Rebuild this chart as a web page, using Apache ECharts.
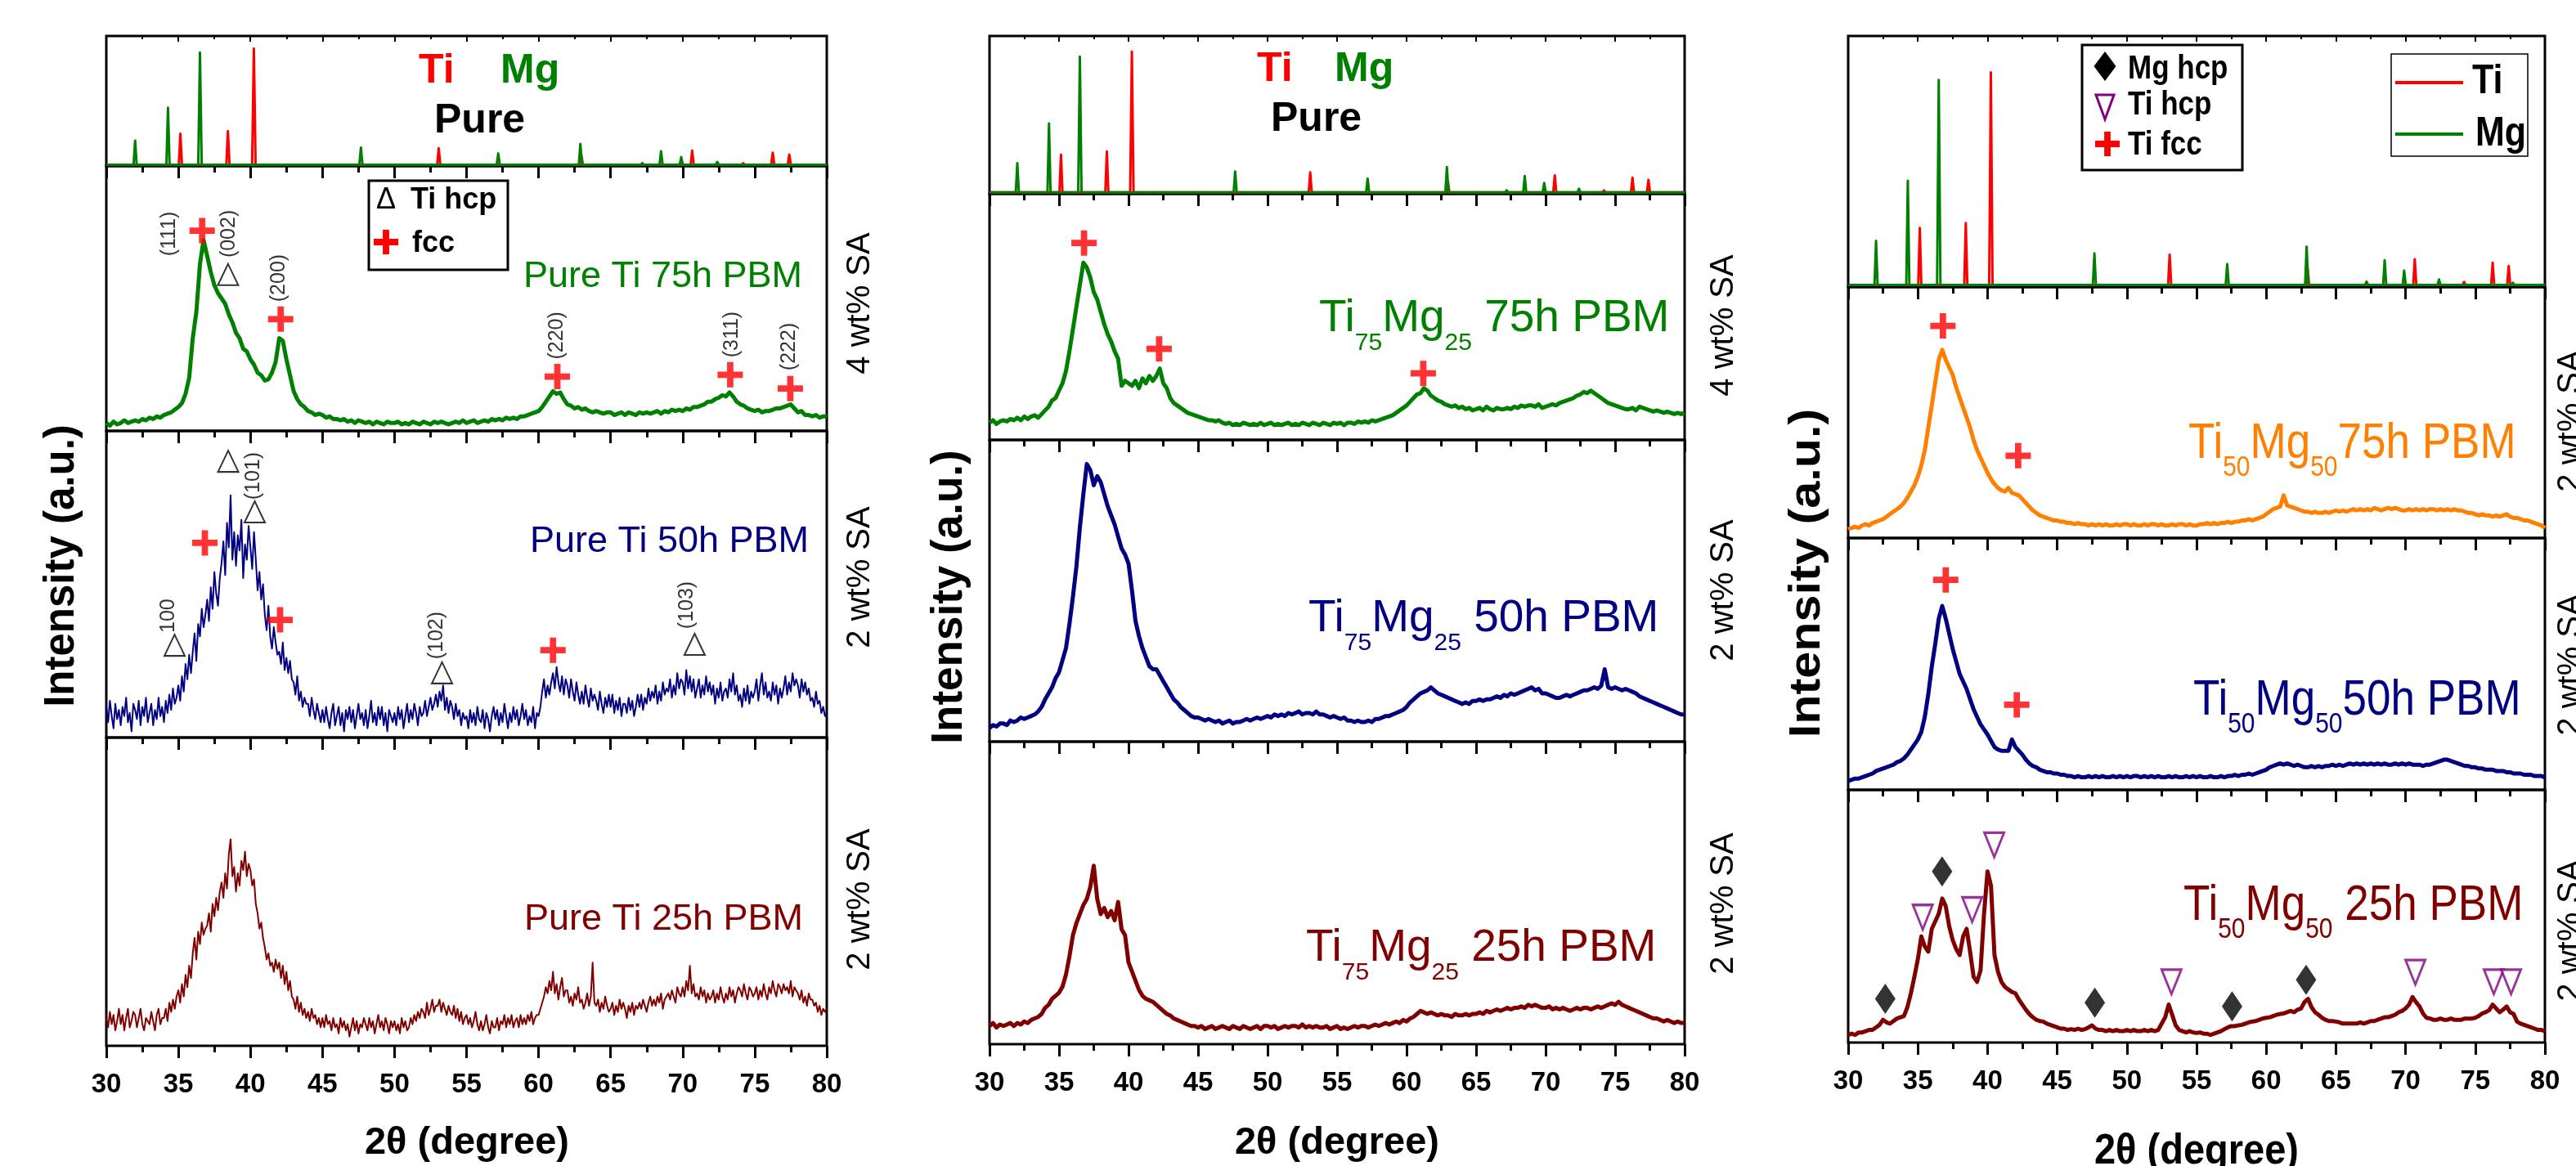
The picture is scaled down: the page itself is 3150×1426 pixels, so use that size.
<!DOCTYPE html>
<html>
<head>
<meta charset="utf-8">
<script src="https://cdn.jsdelivr.net/npm/echarts@6/dist/echarts.min.js"></script>
<style>
html,body{margin:0;padding:0;background:#fff;}
#chart{width:3150px;height:1426px;}
</style>
</head>
<body>
<div id="chart"></div>
<script>
// ---------------- DATA ----------------
// 2θ sampling: start 30°, step 0.25° (coarse) or 0.125° (fine), up to 80°
const X_START = 30, X_STEP = 0.25, X_STEP_FINE = 0.125;
const xTicks = [30, 35, 40, 45, 50, 55, 60, 65, 70, 75, 80];

// Reference patterns (Pure Ti / Pure Mg), [2θ, intensity]
const refTi = [[30,1],[35.03,1],[35.14,27.5],[35.25,1],[38.33,1],[38.44,29.8],[38.55,1],[40.12,1],[40.24,100],[40.36,1],
  [52.96,1],[53.07,15.1],[53.18,1],[62.86,1],[62.97,9],[63.08,1],[70.55,1],[70.66,13],[70.77,1],[74.09,1],[74.2,2.4],[74.31,1],
  [76.14,1],[76.25,11.3],[76.36,1],[77.29,1],[77.4,9.8],[77.51,1],[80,1]];
const refMg = [[30,1],[31.89,1],[32.0,21.5],[32.11,1],[34.17,1],[34.28,49.5],[34.39,1],[36.38,1],[36.5,96.5],[36.62,1],
  [47.56,1],[47.67,15.7],[47.78,1],[57.09,1],[57.2,10.7],[57.31,1],[62.79,1],[62.9,18.8],[63.01,1],[67.09,1],[67.2,2.5],[67.31,1],
  [68.39,1],[68.5,12.5],[68.61,1],[69.79,1],[69.9,7.6],[70.01,1],[72.29,1],[72.4,3.5],[72.51,1],[77.59,1],[77.7,2],[77.81,1],[80,1]];

// Pure Ti 75h PBM (left, green) – step 0.25
const pureTi75 = [
3,2,3.5,2.5, 3,4,3,3.5, 4,3.5,4.5,4, 5,4.5,5.5,5, 6,6.5,7,8,
9,10.5,14,20, 35,45,63,72, 66,60,55,52, 50,48,44,41, 37,35,31,30,
27,25,22,21, 19,19.5,22,26, 35,34,27,21, 15,12,10,9, 7.5,7,6,6.5,
6,5,5.5,4.5, 4.5,4,4.5,3.5, 4,3,4,3.5, 3,3.5,2.5,3.5, 3,2.5,3.5,3,
3,3.5,2.5,3, 2.5,3.5,3,2.5, 3.5,3,2.5,3.5, 3,3.5,3,2.5, 3,3.5,3,4,
3,3.5,4,3, 3.5,4,3.5,4.5, 4,4.5,4,5, 4.5,5,4.5,5.5, 5.5,6,6.5,7,
7.5,9,11,13, 15,14,14.5,12, 10,9.5,8.5,9, 8,8.5,7.5,7, 7.5,7,6.5,7,
7,6,6.5,7, 6,7,6.5,6, 7,6.5,7,6.5, 7,7.5,6.5,7.5, 7,8,7.5,8,
7.5,8.5,8,9, 9,9.5,10,11, 11,12,12.5,13.5, 13,14.5,13,11, 10,9.5,8.5,8,
7.5,8,7,7.5, 7.5,8,8.5,8.5, 9,9.5,10,8.5, 7,7.5,6,6, 5.5,6,5,5.5,
5.5];
// Pure Ti 50h PBM (left, navy) – step 0.125
const pureTi50 = [
10,5,12,7,3,11,6,9, 4,10,7,13,5,8,2,11, 9,6,12,4,10,7,13,5, 8,11,4,9,6,13,7,10,
5,12,8,14,9,16,11,13, 17,12,20,15,24,19,27,21, 28,34,25,37,33,42,36,40, 45,38,49,42,54,47,43,52,
57,64,53,70,62,79,58,67, 56,66,61,71,52,63,58,69, 62,55,67,58,48,54,45,50, 40,35,43,33,29,36,31,27,
28,24,31,22,26,21,25,19, 18,14,20,12,15,10,13,11, 11,7,13,9,6,11,8,5, 9,5,10,6,3,8,11,4,
7,10,4,8,2,9,6,10, 5,9,3,7,11,6,8,4, 9,3,7,12,5,8,4,10, 6,10,4,8,2,9,7,5,
8,4,10,6,9,3,7,11, 5,9,6,11,8,4,10,7, 8,12,7,10,13,9,11,14, 10,15,12,17,9,13,8,12,
10,6,11,7,9,4,8,6, 7,3,9,5,8,4,10,6, 5,9,3,8,6,2,7,10, 6,9,4,8,5,11,7,3,
8,5,10,6,9,4,7,11, 6,9,4,7,5,10,3,8, 7,10,15,19,13,17,14,18, 21,16,23,18,15,20,14,19,
17,13,19,15,12,18,14,11, 15,11,17,13,10,16,12,14, 12,9,15,11,8,13,10,14, 10,14,8,12,9,13,7,11,
11,8,13,9,12,7,10,14, 10,14,9,13,11,16,12,15, 13,17,11,15,12,18,14,16, 15,19,13,17,14,21,16,19,
18,14,22,16,20,15,19,13, 16,19,13,17,14,20,15,18, 14,17,11,16,13,18,12,15, 16,13,19,15,21,14,17,12,
14,10,16,12,17,11,15,13, 15,19,12,17,21,14,18,13, 15,12,18,14,17,11,16,13, 16,20,14,18,15,21,17,19,
17,13,19,15,18,14,16,12, 13,10,15,11,12,8,10,7,
8];
// Pure Ti 25h PBM (left, dark red) – step 0.125
const pureTi25 = [
9,6,11,7,10,5,8,12, 7,10,5,9,12,6,8,11, 10,6,9,12,7,5,9,8, 7,11,8,5,10,12,7,9,
9,12,8,14,11,15,12,16, 18,14,20,16,23,19,26,22, 30,35,28,37,33,40,36,38, 39,43,37,46,42,48,44,50,
53,48,56,51,62,67,55,58, 50,56,52,60,57,63,55,59, 57,52,54,46,43,38,40,35, 32,28,30,26,27,24,28,25,
27,22,26,20,24,18,21,16, 15,12,16,11,14,10,12,9, 11,8,12,9,10,7,9,6, 9,6,10,7,8,5,9,6,
7,4,9,6,8,5,7,3, 6,9,5,8,4,7,6,9, 7,5,9,6,8,4,7,10, 6,8,5,9,7,4,8,6,
8,5,7,4,9,6,8,5, 6,9,7,10,8,11,9,12, 11,9,14,10,12,15,11,13, 13,15,11,14,12,10,13,11,
10,13,9,12,8,11,7,9, 10,7,9,6,8,11,7,5, 8,5,7,10,6,4,8,6, 6,9,5,8,7,10,6,9,
7,10,6,8,9,6,10,7, 9,7,10,8,11,7,9,10, 10,12,14,16,19,17,21,18, 24,17,20,15,19,22,16,18,
18,14,16,13,17,15,19,14, 15,12,14,17,13,16,27,14, 13,15,11,14,12,16,13,11, 12,14,10,13,11,15,12,14,
12,9,13,11,14,10,13,12, 14,12,15,13,11,14,16,13, 15,13,16,14,17,12,15,16, 17,15,18,16,14,19,17,16,
19,16,21,18,26,17,20,16, 17,15,19,16,18,14,17,15, 16,18,14,17,15,19,16,14, 17,15,19,16,18,14,17,19,
18,16,20,17,15,19,18,16, 17,19,15,18,16,20,17,15, 19,17,21,18,16,20,19,17, 20,18,19,17,21,16,19,18,
17,15,18,14,16,13,17,15, 15,13,14,11,13,10,12,11,
12];
// Ti75Mg25 75h PBM (middle, green) – step 0.25
const ti75mg25_75 = [
7,8,6.5,7.5, 8,7.5,8.5,8, 9,8,9.5,8.5, 9.5,10,9,10.5, 12,13.5,16,17,
20,23,28,36, 45,54,63,72, 70,66,60,57, 52,47,43,40, 36,33,22,24,
23,22,24,21, 25,23,26,24, 26,29,23,21, 17,15,14,13, 12,11,10.5,10,
9.5,9,8.5,8, 8,7.5,8,7, 6.5,7,6,6.5, 6,7,6.5,6, 6.5,6,7,6,
6.5,7,6,6.5, 6,6.5,7,6, 6.5,6,7,6.5, 6,7,6.5,6, 7,6.5,6,7,
6.5,7,6,7, 7,6.5,7.5,7, 7.5,7,8,7.5, 8,8.5,9,9.5, 10,11,12,13,
14,15.5,17,18.5, 19,21,20,18, 17,16,15.5,14.5, 14,13.5,14,13, 13.5,12.5,13,12,
12.5,13,12,13.5, 12.5,12,13,12.5, 12.5,13,12.5,13.5, 13,14,13.5,14, 14,13.5,14.5,13,
13.5,14,14.5,14, 15,15.5,16,16.5, 17,18,18.5,19.5, 19,20,19,18, 17,16,15,14.5,
14,13.5,13,12.5, 12.5,13,12,13.5, 13,12.5,12,11.5, 12,11.5,11,11.5, 11,10.5,11,10.5,
11];
// Ti75Mg25 50h PBM (middle, navy)
const ti75mg25_50 = [
4.5,5.5,5,6, 6,5.5,7,6.5, 7,8,7.5,8, 8.5,9,10,11.5, 14,16,18,21,
23,27,31,39, 48,58,71,82, 92,90,85,88, 86,82,78,75, 72,68,64,62,
59,50,40,35, 31,28,25,24, 24,22,20,18, 16,14,13,11.5, 10.5,9.5,8.5,8,
8,7.5,7,7.5, 7,6.5,7,6, 6.5,7,6,6.5, 6.5,7,7.5,7, 7.5,8,7.5,8,
8.5,8,9,8.5, 9,8.5,9.5,9, 9.5,10,9,9.5, 9.5,9,10,9, 9,8.5,8,8.5,
8,7.5,8,7, 7,6.5,7,6.5, 6.5,7,6.5,7.5, 7.5,8,8.5,8.5, 9,9.5,10,10.5,
11.5,13,14,15, 16,16.5,17,18, 17,16,15.5,15, 14.5,14,13.5,13, 12.5,13,12.5,13.5,
13.5,14,13.5,14, 14,14.5,15,14.5, 15.5,15,16,15.5, 16,16.5,17,17.5, 18,17,17.5,16,
16,15.5,15,14.5, 14.5,15,15.5,15, 15.5,16,16.5,17, 17,17.5,18,17.5, 18.5,24,18,17.5,
18,17.5,17,17.5, 17,16.5,16,15, 14.5,14,13.5,13, 12.5,12,11.5,11, 10.5,10,9.5,9,
9];
// Ti75Mg25 25h PBM (middle, dark red)
const ti75mg25_25 = [
6,7,5.5,6.5, 6,6.5,7,6, 7,6.5,7.5,7, 8,8.5,9,10, 12,13,15,16,
17,19,23,29, 36,40,43,46, 48,52,59,48, 43,45,42,44, 41,47,38,36,
27,24,21,18, 16,15,14.5,14, 13,12,11,10, 9.5,8.5,8,7.5, 7,6.5,6,6,
5.5,6,5,5.5, 6,5,5.5,6, 5.5,5,6,5.5, 5,6,5.5,5, 5.5,6,5,6,
6,5.5,6,5, 5.5,6,5.5,6, 6,5.5,6.5,5.5, 6,5.5,6,5.5, 5.5,6,5,5.5,
6,5,5.5,5, 5.5,6,5.5,6, 6,5.5,6,6.5, 6,6.5,7,6.5, 7,7.5,7,8,
7.5,8.5,9,10, 11,10.5,10,10.5, 10,9.5,10,9.5, 9.5,9,10,9.5, 9.5,10,9.5,10,
10,10.5,10,11, 10.5,11,11.5,11, 11.5,12,11.5,12, 12,12.5,12,13, 12.5,13,12.5,12,
12,12.5,11.5,12, 11.5,12,11.5,11, 11.5,12,11.5,12, 12,11.5,12,12.5, 12,12.5,13,13.5,
13,14,13,12.5, 12,11.5,11,10.5, 10,9.5,9,8.5, 8.5,8,7.5,8, 7.5,7,7.5,7,
7];
// Ti50Mg50 75h PBM (right, orange)
const ti50mg50_75 = [
3.5,4,4.5,4, 5,5.5,5,6, 6.5,7,7.5,8.5, 9.5,10.5,11.5,12.5, 14,16,18.5,21,
24.5,29,35,44, 53,62,71,75, 71,68,65,60, 56,52,48,44, 39,35,32,29,
26,23.5,21.5,20, 19,18.5,20,18, 17.5,17,15.5,14, 12.5,11,10,9, 8.5,8,7.5,7,
7,6.5,6.5,6, 6,5.5,6,5.5, 5.5,5,5.5,5, 5.5,5,5.5,5, 5,5.5,5,5.5,
5.5,5,5.5,5, 5,5.5,5,5.5, 5.5,5,5.5,5, 5,5.5,5,5.5, 5.5,5,5.5,5,
5,5.5,5.5,6, 5.5,6,5.5,6, 6,6.5,6,6.5, 6.5,7,7,7.5, 7,7.5,8,8.5,
9.5,10.5,11.5,12, 12.5,17,13,12.5, 12,11.5,11,10.5, 10.5,10,10.5,10, 10,10.5,10,10.5,
11,10.5,11,10.5, 11,11.5,11,11.5, 11,11.5,11,12, 11.5,11,11.5,12, 11.5,12,11.5,11,
11,11.5,11,11.5, 11,11.5,11,11.5, 11.5,11,11.5,11, 11.5,11,11.5,11, 11,10.5,10,10,
9.5,9,9.5,9, 9,8.5,9,8.5, 9,9.5,8.5,8, 8,7.5,7,7, 6.5,6,5.5,5,
4];
// Ti50Mg50 50h PBM (right, navy)
const ti50mg50_50 = [
3.5,4,4.5,4.5, 5,5.5,6,6.5, 7.5,8,8.5,9, 9.5,10,11,11.5, 12.5,14,16,18,
20,23,29,38, 49,58,68,73, 68,62,56,51, 46,43,40,36, 32,29,26,24,
22,19.5,17,16, 15.5,15.5,15.5,20, 17,15.5,14,12, 10.5,9.5,9,8, 7.5,7,7,6.5,
6.5,6,6,5.5, 5.5,5,5.5,5, 5,5.5,5,5.5, 5,5.5,5,5, 5.5,5,5.5,5,
5.5,5,5.5,5.5, 5,5.5,5,5.5, 5,5.5,5,5, 5.5,5,5.5,5, 5,5.5,5,5.5,
5,5.5,5,5, 5.5,5,5,5.5, 5,5.5,5.5,6, 5.5,6,6,6.5, 6,6.5,7,7.5,
8,9,9.5,10, 10.5,10,10.5,10, 9.5,10,9.5,9, 9,9.5,9,9.5, 9,9.5,9.5,10,
9.5,10,9.5,10, 10.5,10,10.5,10, 10.5,10,10.5,10, 10.5,10,10.5,10, 10,10.5,10,10.5,
10,10.5,10,10, 10,9.5,10,10, 10.5,11,11.5,12, 12,11.5,11,10.5, 10,9.5,9.5,9,
9,8.5,8.5,8, 8,8,7.5,7.5, 7.5,7,7,6.5, 6.5,6.5,6,6, 6,5.5,5.5,5.5,
5];
// Ti50Mg50 25h PBM (right, dark red)
const ti50mg50_25 = [
3,3.5,3,4, 4,4.5,5,5, 6,7,9,8, 7.5,8.5,9.5,10, 10.5,14,19.5,26,
33,42,38,36, 45,48,51,57, 54,46,40.6,37, 34.6,42,45,36, 26,24,28.6,51,
67.7,62,34.6,28, 24,22,21,20, 19.5,17,15,13, 11.3,10,9,8.5, 8.3,7.5,7,6.5,
6,5.5,5.5,5, 5.3,5,5.5,5, 5.3,6,6.8,5.5, 5,5,4.5,5, 4.5,5,4.5,4.5,
5,4.5,5,4.5, 4.5,5,4.5,5, 4.5,5,7.5,10, 15,11,6.8,5, 4.5,4,4.5,4,
3.8,4,3.5,3.5, 3,3.5,4,4.5, 5.3,6,6.5,6.5, 6.8,7,7.5,8, 8.3,8.5,9,9.5,
9.8,10,10.5,11, 11.3,11.5,12,12.5, 12,13,13.5,16, 17.3,14,12,11, 9.8,9,8.5,8.5,
8.3,8,7.5,7.5, 7.5,7.5,7.5,8, 7.5,8,8.5,8.5, 9,9.5,10,10, 10.5,11,12,12.5,
13.5,15,18,16, 14.3,11.5,9.8,9.5, 9,9,9.5,9, 9,9.5,9,9, 9,9.5,9.5,9.5,
9.8,10.5,11.5,12, 12.8,15,13.5,12, 13,14.3,12,11.3, 8.3,7.5,7,6.5, 6,5.5,5,5,
4.5];

// Phase markers [2θ, height in % of panel]
const fccL1 = [[36.65,75.6],[42.1,42.2],[61.3,20.5],[73.3,21.2],[77.47,16]];
const hcpL1 = [[38.45,59]];
const hklL1 = [[34.4,74.4,'(111)'],[38.5,74.4,'(002)'],[42.0,57.7,'(200)'],[61.3,36,'(220)'],[73.4,36.4,'(311)'],[77.4,31.8,'(222)']];
const fccL2 = [[36.84,63.5],[42.06,38.4],[61.0,28.5]];
const hcpL2 = [[34.74,30.1],[38.46,90.1],[40.3,73.6],[53.3,21.1],[70.83,30.4]];
const hklL2 = [[34.34,39.7,'100'],[40.2,85.3,'(101)'],[52.93,33.3,'(102)'],[70.3,43.2,'(103)']];
const fccM1 = [[36.8,80],[42.2,37],[61.2,27]];
const fccR1 = [[36.8,84.5],[42.2,32.8]];
const fccR2 = [[37.0,83.4],[42.1,33.8]];
const mgHcpR3 = [[32.66,17.3],[36.74,67.7],[47.7,15.8],[57.55,14.3],[62.86,24.8]];
const tiHcpR3 = [[35.35,49.6],[38.9,52.6],[40.48,78.2],[53.2,24],[70.7,27.8],[76.33,24],[77.57,24]];

// ---------------- LAYOUT ----------------
const FONT = '"Liberation Sans", Arial, Helvetica, sans-serif';
const C = {green:'#008000', navy:'#000080', dred:'#800000', orange:'#FF8000', red:'#FF0000', purple:'#800080'};
const PLUS = 'path://M3,0H5V3H8V5H5V8H3V5H0V3H3Z';

const panels = [
  {left:130, width:881, rows:[[44,159],[203,324],[527,375],[902,377]], refMax:110.6},
  {left:1210, width:850, rows:[[44,193],[237,301],[538,369],[907,370]], refMax:111},
  {left:2260, width:852, rows:[[44,307],[351,307],[658,308],[966,309]], refMax:117}
];

const grid = [], xAxis = [], yAxis = [], series = [];
panels.forEach((p, pi) => {
  p.rows.forEach((r, ri) => {
    const gi = grid.length;
    grid.push({left:p.left, top:r[0], width:p.width, height:r[1], show:true, borderColor:'#000', borderWidth:3, backgroundColor:'transparent'});
    xAxis.push({type:'value', gridIndex:gi, min:30, max:80, interval:5, position:'bottom',
      axisLine:{show:false}, splitLine:{show:false},
      axisTick:{show:true, length:15, inside:false, lineStyle:{color:'#000', width:3}},
      minorTick:{show:true, splitNumber:2, length:8, lineStyle:{color:'#000', width:3}},
      axisLabel:{show:ri===3, fontFamily:FONT, fontWeight:'bold', fontSize:33, color:'#000', margin:31}
    });
    yAxis.push({type:'value', gridIndex:gi, min:0, max: ri===0 ? p.refMax : 100, show:false});
  });
});
// top inner ticks on each panel
panels.forEach((p, pi) => {
  xAxis.push({type:'value', gridIndex:pi*4, min:30, max:80, interval:5, position:'top',
    axisLine:{show:false}, splitLine:{show:false}, axisLabel:{show:false},
    axisTick:{show:true, inside:true, length:7, lineStyle:{color:'#000', width:2}},
    minorTick:{show:true, splitNumber:2, length:4, lineStyle:{color:'#000', width:2}}});
});

function toPairs(arr, step){ return arr.map((v,i)=>[X_START + i*step, v]); }
function line(gi, data, color, width){
  series.push({type:'line', xAxisIndex:gi, yAxisIndex:gi, data:data, showSymbol:false, symbol:'none',
    lineStyle:{color:color, width:width, join:'round'}, itemStyle:{color:color}, animation:false, silent:true, z:3});
}
function marks(gi, data, symbol, size, style, rotate){
  series.push({type:'scatter', xAxisIndex:gi, yAxisIndex:gi, data:data, symbol:symbol, symbolSize:size,
    symbolRotate: rotate||0, itemStyle:style, animation:false, silent:true, z:5});
}
function hkl(gi, data){
  series.push({type:'scatter', xAxisIndex:gi, yAxisIndex:gi, data:data, symbolSize:1, itemStyle:{color:'rgba(0,0,0,0)'},
    label:{show:true, position:'inside', rotate:90, formatter:(p)=>p.data[2], fontFamily:FONT, fontSize:25, color:'#000'},
    animation:false, silent:true, z:6});
}

// reference patterns
[0,4,8].forEach(gi => { line(gi, refTi, C.red, 3); line(gi, refMg, C.green, 3); });
// left
line(1, toPairs(pureTi75, X_STEP), C.green, 5);
line(2, toPairs(pureTi50, X_STEP_FINE), C.navy, 2);
line(3, toPairs(pureTi25, X_STEP_FINE), C.dred, 2);
// middle
line(5, toPairs(ti75mg25_75, X_STEP), C.green, 5);
line(6, toPairs(ti75mg25_50, X_STEP), C.navy, 5);
line(7, toPairs(ti75mg25_25, X_STEP), C.dred, 5);
// right
line(9, toPairs(ti50mg50_75, X_STEP), C.orange, 5);
line(10, toPairs(ti50mg50_50, X_STEP), C.navy, 5);
line(11, toPairs(ti50mg50_25, X_STEP), C.dred, 5);

const plusStyle = {color:C.red};
const hcpStyle = {color:'#fff', borderColor:'#000', borderWidth:2};
marks(1, fccL1, PLUS, [31,31], plusStyle);
marks(1, hcpL1, 'triangle', [25,26], hcpStyle);
hkl(1, hklL1);
marks(2, fccL2, PLUS, [31,31], plusStyle);
marks(2, hcpL2, 'triangle', [25,26], hcpStyle);
hkl(2, hklL2);
marks(5, fccM1, PLUS, [31,31], plusStyle);
marks(9, fccR1, PLUS, [31,31], plusStyle);
marks(10, fccR2, PLUS, [31,31], plusStyle);
marks(11, mgHcpR3, 'diamond', [25,37], {color:'#000'});
marks(11, tiHcpR3, 'triangle', [24,30], {color:'#fff', borderColor:C.purple, borderWidth:3}, 180);

// ---------------- TEXT / GRAPHIC ----------------
const graphic = [];
function txt(x, y, s, o){
  o = o || {};
  graphic.push({type:'text', x:x, y:y, rotation:o.rot||0, scaleX:o.sx||1, scaleY:o.sy||1, z:100, silent:true,
    style:{text:s, x:0, y:0, fill:o.color||'#000', fontSize:o.size||40, fontWeight:o.bold?'bold':'normal', fontFamily:FONT,
      textAlign:o.align||'left', textVerticalAlign:'middle', align:o.align||'left', verticalAlign:'middle'}});
}
const mctx = document.createElement('canvas').getContext('2d');
function measure(s, size, bold){ mctx.font = (bold?'bold ':'') + size + 'px "Liberation Sans", Arial'; return mctx.measureText(s).width; }
function subLabel(parts, x, capY, F, Fs, drop, color, align, sy){
  const widths = parts.map(p => measure(p[0], p[1]?Fs:F, false));
  const total = widths.reduce((a,b)=>a+b,0);
  let cx = align==='right' ? x - total : x;
  const base = capY + 0.358*F;
  parts.forEach((p,i) => {
    const yy = p[1] ? (base + drop - 0.3465*Fs) : capY;
    txt(cx, yy, p[0], {size:p[1]?Fs:F, color:color, sy:sy||1});
    cx += widths[i];
  });
}
function rect(x1,y1,x2,y2,lw){
  graphic.push({type:'rect', z:90, silent:true, shape:{x:x1,y:y1,width:x2-x1,height:y2-y1},
    style:{fill:'#fff', stroke:'#000', lineWidth:lw}});
}
function poly(points, fill, stroke, lw){
  graphic.push({type:'polygon', z:101, silent:true, shape:{points:points}, style:{fill:fill, stroke:stroke||null, lineWidth:lw||0}});
}
function plusAt(cx, cy, s){
  const a = s/2, t = s*0.13;
  poly([[cx-t,cy-a],[cx+t,cy-a],[cx+t,cy-t],[cx+a,cy-t],[cx+a,cy+t],[cx+t,cy+t],[cx+t,cy+a],[cx-t,cy+a],[cx-t,cy+t],[cx-a,cy+t],[cx-a,cy-t],[cx-t,cy-t]], C.red);
}
function hline(x1, x2, y, color, w){
  graphic.push({type:'line', z:101, silent:true, shape:{x1:x1,y1:y,x2:x2,y2:y}, style:{stroke:color, lineWidth:w}});
}

// Pure labels (top reference panels)
txt(512, 87, 'Ti', {size:50, bold:true, color:C.red});
txt(612, 87, 'Mg', {size:50, bold:true, color:C.green});
txt(531, 148, 'Pure', {size:50, bold:true});
txt(1537, 85, 'Ti', {size:50, bold:true, color:C.red});
txt(1632, 85, 'Mg', {size:50, bold:true, color:C.green});
txt(1554, 146, 'Pure', {size:50, bold:true});

// left legend
rect(451, 221, 621, 330, 3);
txt(472, 245, 'Δ', {size:36, align:'center'});
txt(502, 245, 'Ti hcp', {size:36, bold:true});
plusAt(472, 296, 30);
txt(504, 298, 'fcc', {size:36, bold:true});

// right legends
rect(2546, 55, 2742, 208, 3);
poly([[2574,63],[2587.5,81],[2574,99],[2560.5,81]], '#000');
txt(2602, 85, 'Mg hcp', {size:35, bold:true, sy:1.15});
poly([[2563,116],[2585,116],[2574,146]], '#fff', C.purple, 3);
txt(2602, 129, 'Ti hcp', {size:35, bold:true, sy:1.15});
plusAt(2577, 176, 30);
txt(2602, 178, 'Ti fcc', {size:35, bold:true, sy:1.15});
rect(2924, 66, 3091, 191, 1.5);
hline(2929, 3012, 101, C.red, 4);
txt(3023, 100, 'Ti', {size:43, bold:true, sy:1.15});
hline(2929, 3012, 164, C.green, 4);
txt(3027, 164, 'Mg', {size:43, bold:true, sy:1.15});

// sample labels
txt(981, 339, 'Pure Ti 75h PBM', {size:45, color:C.green, align:'right'});
txt(989, 663, 'Pure Ti 50h PBM', {size:45, color:C.navy, align:'right'});
txt(982, 1125, 'Pure Ti 25h PBM', {size:45, color:C.dred, align:'right'});

subLabel([['Ti'],['75',1],['Mg'],['25',1],[' 75h PBM']], 1613, 390, 55, 30, 20, C.green, 'left');
subLabel([['Ti'],['75',1],['Mg'],['25',1],[' 50h PBM']], 1600, 757, 55, 30, 20, C.navy, 'left');
subLabel([['Ti'],['75',1],['Mg'],['25',1],[' 25h PBM']], 1597, 1160, 55, 30, 20, C.dred, 'left');

subLabel([['Ti'],['50',1],['Mg'],['50',1],['75h PBM']], 2676, 543, 53, 30, 21, C.orange, 'left', 1.15);
subLabel([['Ti'],['50',1],['Mg'],['50',1],['50h PBM']], 2682, 857, 53, 30, 21, C.navy, 'left', 1.15);
subLabel([['Ti'],['50',1],['Mg'],['50',1],[' 25h PBM']], 2670, 1108, 53, 30, 21, C.dred, 'left', 1.15);

// right-side SA labels
const R90 = Math.PI/2;
[[1052,371,'4 wt% SA'],[1052,706,'2 wt% SA'],[1052,1100,'2 wt% SA'],
 [2108,398,'4 wt% SA'],[2108,722,'2 wt% SA'],[2108,1105,'2 wt% SA'],
 [3144,515,'2 wt% SA'],[3144,813,'2 wt% SA'],[3144,1138,'2 wt% SA']].forEach(a => {
  txt(a[0], a[1], a[2], {size:40, rot:R90, align:'center'});
});

// axis titles
txt(76, 692, 'Intensity (a.u.)', {size:51, bold:true, rot:R90, align:'center'});
txt(1161, 730, 'Intensity (a.u.)', {size:53, bold:true, rot:R90, align:'center'});
txt(2210, 701, 'Intensity (a.u.)', {size:53, bold:true, rot:R90, align:'center', sx:1.12});
txt(571, 1398, '2θ (degree)', {size:47, bold:true, align:'center'});
txt(1635, 1398, '2θ (degree)', {size:47, bold:true, align:'center'});
txt(2686, 1408, '2θ (degree)', {size:47, bold:true, align:'center', sy:1.12});

const chart = echarts.init(document.getElementById('chart'), null, {renderer:'canvas', width:3150, height:1426});
chart.setOption({
  animation:false,
  backgroundColor:'#fff',
  grid:grid, xAxis:xAxis, yAxis:yAxis, series:series, graphic:graphic
});
</script>
</body>
</html>
